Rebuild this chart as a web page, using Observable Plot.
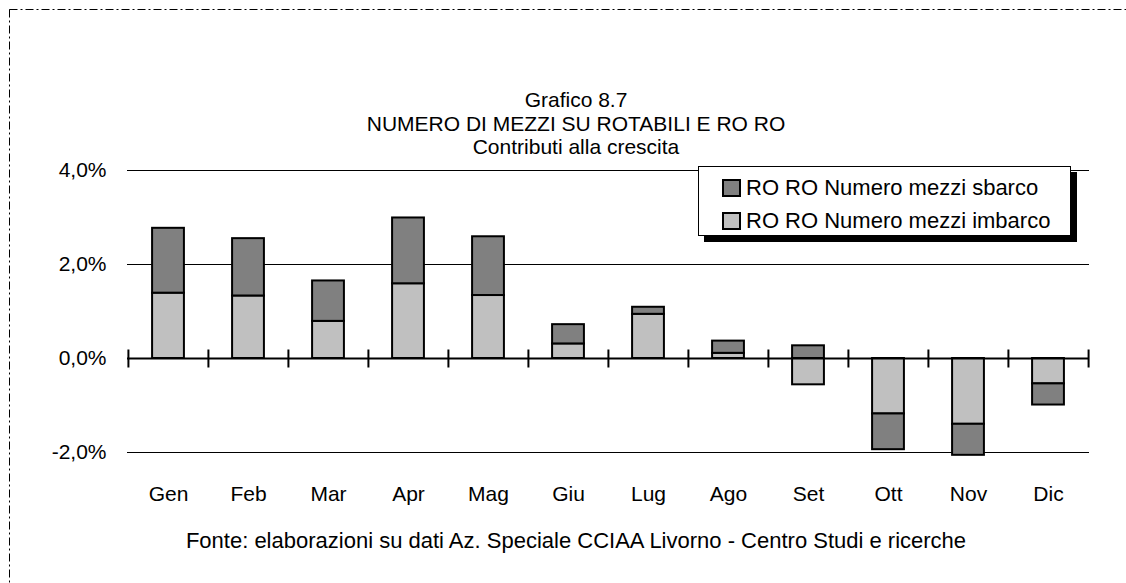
<!DOCTYPE html>
<html>
<head>
<meta charset="utf-8">
<script src="https://cdn.jsdelivr.net/npm/d3@7"></script>
<script src="https://cdn.jsdelivr.net/npm/@observablehq/plot@0.6"></script>
<style>
  html, body { margin: 0; padding: 0; background: #fff; overflow: hidden; }
  #wrap { position: relative; width: 1126px; height: 583px; overflow: hidden; font-family: "Liberation Sans", Arial, sans-serif; color: #000; }
  #border { position: absolute; left: 0; top: 0; }
  #title { position: absolute; left: 0; width: 1152px; top: 88px; text-align: center; font-size: 21px; line-height: 23.5px; }
  #chart { position: absolute; left: 0; top: 150px; }
  #caption { position: absolute; left: 0; width: 1152px; top: 527px; text-align: center; font-size: 22px; line-height: 28px; }
  #legend { position: absolute; left: 698px; top: 166px; width: 371px; height: 68px; border: 1px solid #000; background: #fff; box-shadow: 6px 6px 0 #000; font-size: 22px; }
  .row { position: absolute; left: 23px; height: 24px; display: flex; align-items: center; white-space: nowrap; }
  .sw { width: 15px; height: 14px; border: 2px solid #000; margin-right: 5px; }
</style>
</head>
<body>
<div id="wrap">
  <svg id="border" width="1126" height="583"><rect x="9.5" y="9.5" width="1140" height="600" fill="none" stroke="#000" stroke-width="1" stroke-dasharray="8,3,2,3"/></svg>
  <div id="title"></div>
  <div id="chart"></div>
  <div id="legend"></div>
  <div id="caption"></div>
</div>
<script>
const titleLines = ["Grafico 8.7", "NUMERO DI MEZZI SU ROTABILI E RO RO", "Contributi alla crescita"];
const caption = "Fonte: elaborazioni su dati Az. Speciale CCIAA Livorno - Centro Studi e ricerche";
const months = ["Gen","Feb","Mar","Apr","Mag","Giu","Lug","Ago","Set","Ott","Nov","Dic"];
const seriesNames = ["RO RO Numero mezzi imbarco", "RO RO Numero mezzi sbarco"];
const seriesColors = ["#c0c0c0", "#808080"];
const imbarco = [1.39, 1.33, 0.79, 1.59, 1.34, 0.31, 0.94, 0.11, -0.56, -1.18, -1.40, -0.54];
const sbarco  = [1.38, 1.22, 0.86, 1.40, 1.25, 0.41, 0.15, 0.26, 0.27, -0.76, -0.66, -0.45];
const yTicks = [-2, 0, 2, 4];
const gridTicks = [-2, 2, 4];

const W = 1126, H = 360, ML = 127, MR = 37, MT = 20, MB = 58;
const bw = (W - ML - MR) / months.length;

const data = [];
months.forEach((m, i) => {
  data.push({month: m, series: seriesNames[0], value: imbarco[i]});
  data.push({month: m, series: seriesNames[1], value: sbarco[i]});
});

const vline = {draw(ctx, size) { const h = Math.sqrt(size / Math.PI); ctx.moveTo(0, -h); ctx.lineTo(0, h); }};
const fmt = d => d.toFixed(1).replace(".", ",") + "%";

const plot = Plot.plot({
  width: W, height: H,
  marginLeft: ML, marginRight: MR, marginTop: MT, marginBottom: MB,
  style: {fontFamily: '"Liberation Sans", Arial, sans-serif', fontSize: "21px", color: "#000", background: "transparent"},
  x: {domain: months, padding: 0},
  y: {domain: [-2, 4]},
  color: {domain: seriesNames, range: seriesColors},
  marks: [
    Plot.ruleY(gridTicks, {stroke: "#000", strokeWidth: 1}),
    Plot.barY(data, {x: "month", y: "value", fill: "series", stroke: "#000", strokeWidth: 2, insetLeft: (bw - 32) / 2, insetRight: (bw - 32) / 2}),
    Plot.ruleY([0], {stroke: "#000", strokeWidth: 2}),
    Plot.dot(months, {x: d => d, y: () => 0, symbol: vline, r: 9, stroke: "#000", strokeWidth: 2, dx: -bw / 2}),
    Plot.dot(months.slice(-1), {x: d => d, y: () => 0, symbol: vline, r: 9, stroke: "#000", strokeWidth: 2, dx: bw / 2}),
    Plot.axisX({tickSize: 0, tickPadding: 34, fontSize: 21, label: null}),
    Plot.axisY({ticks: yTicks, tickSize: 0, tickPadding: 21, tickFormat: fmt, fontSize: 21, label: null})
  ]
});
document.getElementById("chart").appendChild(plot);

document.getElementById("title").innerHTML = titleLines.map(t => `<div>${t}</div>`).join("");
document.getElementById("caption").textContent = caption;

const legend = document.getElementById("legend");
const order = [1, 0];
order.forEach((k, j) => {
  const row = document.createElement("div");
  row.className = "row";
  row.style.top = (9 + j * 33) + "px";
  row.innerHTML = `<span class="sw" style="background:${seriesColors[k]}"></span><span>${seriesNames[k]}</span>`;
  legend.appendChild(row);
});
</script>
</body>
</html>
